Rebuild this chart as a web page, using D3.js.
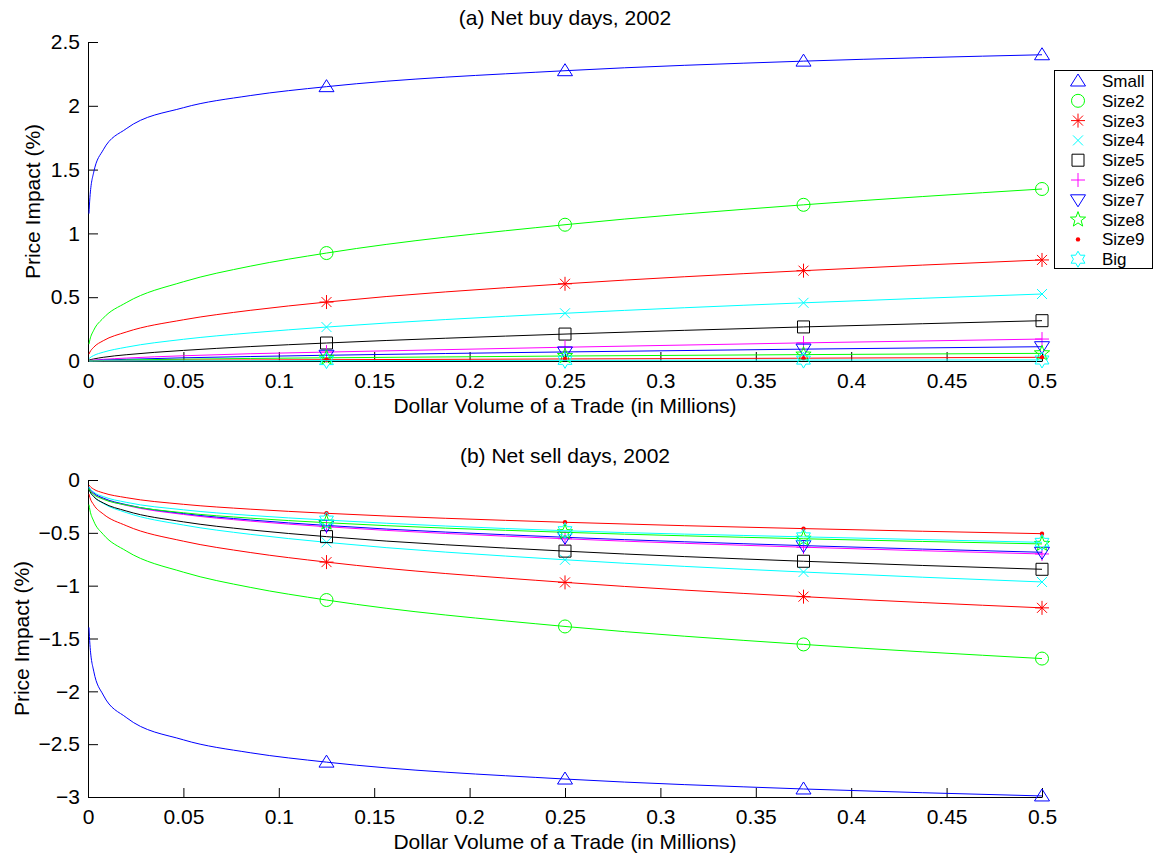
<!DOCTYPE html>
<html>
<head>
<meta charset="utf-8">
<script src="https://cdn.jsdelivr.net/npm/d3@7"></script>
<style>
  body { margin: 0; background: #fff; }
  svg { font-family: "Liberation Sans", Arial, sans-serif; }
  .tick text { font-size: 21px; fill: #000; }
  .domain, .tick line { stroke: #000; }
</style>
</head>
<body>
<div id="chart"></div>
<script>
// values, x in millions of dollars
const xGrid = [0.0005, 0.001, 0.003, 0.008, 0.02, 0.05, 0.085, 0.125, 0.25, 0.375, 0.5];
const markerX = [0.125, 0.25, 0.375, 0.5];
const seriesNames = ["Small", "Size2", "Size3", "Size4", "Size5", "Size6", "Size7", "Size8", "Size9", "Big"];
const xTicks = [0, 0.05, 0.1, 0.15, 0.2, 0.25, 0.3, 0.35, 0.4, 0.45, 0.5];
const buyTicks = [0, 0.5, 1, 1.5, 2, 2.5];
const sellTicks = [-3, -2.5, -2, -1.5, -1, -0.5, 0];

const buyValues = [
  [1.155, 1.28, 1.48, 1.655, 1.82, 1.985, 2.08, 2.15, 2.275, 2.35, 2.40],
  [0.132, 0.167, 0.241, 0.336, 0.457, 0.621, 0.743, 0.846, 1.068, 1.224, 1.348],
  [0.054, 0.070, 0.108, 0.159, 0.227, 0.323, 0.397, 0.462, 0.605, 0.708, 0.792],
  [0.018, 0.025, 0.043, 0.069, 0.108, 0.170, 0.220, 0.266, 0.374, 0.456, 0.525],
  [0.006, 0.009, 0.016, 0.029, 0.049, 0.083, 0.113, 0.141, 0.211, 0.267, 0.316],
  [0.002, 0.004, 0.007, 0.013, 0.023, 0.041, 0.057, 0.070, 0.108, 0.142, 0.172],
  [0.001, 0.002, 0.004, 0.007, 0.013, 0.025, 0.035, 0.045, 0.071, 0.093, 0.112],
  [0.001, 0.001, 0.002, 0.004, 0.008, 0.014, 0.020, 0.025, 0.039, 0.050, 0.060],
  [0.000, 0.000, 0.001, 0.001, 0.003, 0.006, 0.008, 0.010, 0.016, 0.022, 0.029],
  [0.000, 0.000, 0.000, 0.001, 0.001, 0.002, 0.002, 0.003, 0.005, 0.007, 0.008]
];

const sellValues = [
  [-1.395, -1.555, -1.809, -2.035, -2.247, -2.459, -2.581, -2.67, -2.83, -2.924, -2.99],
  [-0.233, -0.284, -0.389, -0.515, -0.671, -0.872, -1.016, -1.136, -1.386, -1.556, -1.69],
  [-0.133, -0.166, -0.235, -0.322, -0.432, -0.579, -0.686, -0.777, -0.969, -1.104, -1.21],
  [-0.083, -0.106, -0.157, -0.222, -0.308, -0.426, -0.514, -0.590, -0.755, -0.871, -0.965],
  [-0.087, -0.109, -0.157, -0.217, -0.293, -0.396, -0.472, -0.536, -0.673, -0.769, -0.845],
  [-0.071, -0.089, -0.128, -0.177, -0.240, -0.326, -0.389, -0.442, -0.556, -0.636, -0.70],
  [-0.068, -0.085, -0.123, -0.171, -0.233, -0.317, -0.378, -0.430, -0.542, -0.621, -0.684],
  [-0.081, -0.099, -0.137, -0.182, -0.237, -0.310, -0.361, -0.404, -0.495, -0.556, -0.605],
  [-0.047, -0.059, -0.087, -0.122, -0.167, -0.230, -0.276, -0.315, -0.400, -0.460, -0.508],
  [-0.065, -0.081, -0.115, -0.157, -0.211, -0.282, -0.335, -0.379, -0.480, -0.538, -0.59]
];

// matlab style colours and markers
const colors = ["#0000ff", "#00ff00", "#ff0000", "#00ffff", "#000000", "#ff00ff", "#0000ff", "#00ff00", "#ff0000", "#00ffff"];
const markers = ["^", "o", "*", "x", "s", "+", "v", "p", ".", "h"];

const W = 1154, H = 860;
const svg = d3.select("#chart").append("svg")
  .attr("width", W).attr("height", H);

function star(n, ro, ri) {
  const pts = [];
  for (let i = 0; i < 2 * n; i++) {
    const r = i % 2 ? ri : ro;
    const a = -Math.PI / 2 + i * Math.PI / n;
    pts.push([r * Math.cos(a), r * Math.sin(a)]);
  }
  return "M" + pts.map(p => p[0].toFixed(2) + "," + p[1].toFixed(2)).join("L") + "Z";
}

function markerPath(m) {
  switch (m) {
    case "^": return "M0,-7L7.5,5L-7.5,5Z";
    case "v": return "M0,7L7.5,-5L-7.5,-5Z";
    case "o": return "M6.5,0A6.5,6.5 0 1 1 -6.5,0A6.5,6.5 0 1 1 6.5,0Z";
    case "s": return "M-6,-6H6V6H-6Z";
    case "x": return "M-5,-5L5,5M-5,5L5,-5";
    case "+": return "M-7,0H7M0,-7V7";
    case "*": return "M-7,0H7M0,-7V7M-5,-5L5,5M-5,5L5,-5";
    case "p": return star(5, 8, 3.3);
    case "h": return star(6, 8, 4.6);
  }
  return "";
}

function drawMarker(g, m, color, cx, cy) {
  if (m === ".") {
    g.append("circle").attr("cx", cx).attr("cy", cy).attr("r", 2.2).attr("fill", color);
  } else {
    g.append("path").attr("d", markerPath(m))
      .attr("transform", `translate(${cx},${cy})`)
      .attr("fill", "none").attr("stroke", color).attr("stroke-width", 1);
  }
}

const x = d3.scaleLinear().domain([0, 0.5]).range([88, 1042]);

function panel(values, yDomain, yRange, yTicks, title, titleY, ylabelX) {
  const y = d3.scaleLinear().domain(yDomain).range(yRange);
  const g = svg.append("g");

  g.append("g")
    .attr("transform", `translate(0,${yRange[0]})`)
    .call(d3.axisBottom(x).tickValues(xTicks).tickFormat(d3.format("~g"))
      .tickSizeInner(-9).tickSizeOuter(0).tickPadding(12));

  g.append("g")
    .attr("transform", `translate(${x(0)},0)`)
    .call(d3.axisLeft(y).tickValues(yTicks).tickFormat(d3.format("~g"))
      .tickSizeInner(-10).tickSizeOuter(0).tickPadding(8));

  const line = d3.line()
    .x((d, i) => x(xGrid[i]))
    .y(d => y(d))
    .curve(d3.curveMonotoneX);

  values.forEach((vals, k) => {
    g.append("path").datum(vals)
      .attr("d", line)
      .attr("fill", "none")
      .attr("stroke", colors[k])
      .attr("stroke-width", 1);
    markerX.forEach(mx => {
      const v = vals[xGrid.indexOf(mx)];
      drawMarker(g, markers[k], colors[k], x(mx), y(v));
    });
  });

  g.append("text")
    .attr("x", (x.range()[0] + x.range()[1]) / 2)
    .attr("y", titleY)
    .attr("text-anchor", "middle")
    .style("font-size", "21px")
    .text(title);

  g.append("text")
    .attr("x", (x.range()[0] + x.range()[1]) / 2)
    .attr("y", yRange[0] + 52)
    .attr("text-anchor", "middle")
    .style("font-size", "21px")
    .text("Dollar Volume of a Trade (in Millions)");

  g.append("text")
    .attr("transform", `translate(${ylabelX},${(yRange[0] + yRange[1]) / 2}) rotate(-90)`)
    .attr("text-anchor", "middle")
    .style("font-size", "21px")
    .text("Price Impact (%)");
}

panel(buyValues, [0, 2.5], [361, 42], buyTicks, "(a) Net buy days, 2002", 25, 40);
panel(sellValues, [-3, 0], [797, 480], sellTicks, "(b) Net sell days, 2002", 463, 29);

// legend
const leg = svg.append("g");
leg.append("rect")
  .attr("x", 1054.5).attr("y", 70.5)
  .attr("width", 98).attr("height", 198)
  .attr("fill", "#fff").attr("stroke", "#000").attr("stroke-width", 1);
seriesNames.forEach((name, k) => {
  const cy = 81 + k * 19.8;
  drawMarker(leg, markers[k], colors[k], 1078, cy);
  leg.append("text")
    .attr("x", 1102).attr("y", cy)
    .attr("dy", "0.35em")
    .style("font-size", "17px")
    .text(name);
});
</script>
</body>
</html>
